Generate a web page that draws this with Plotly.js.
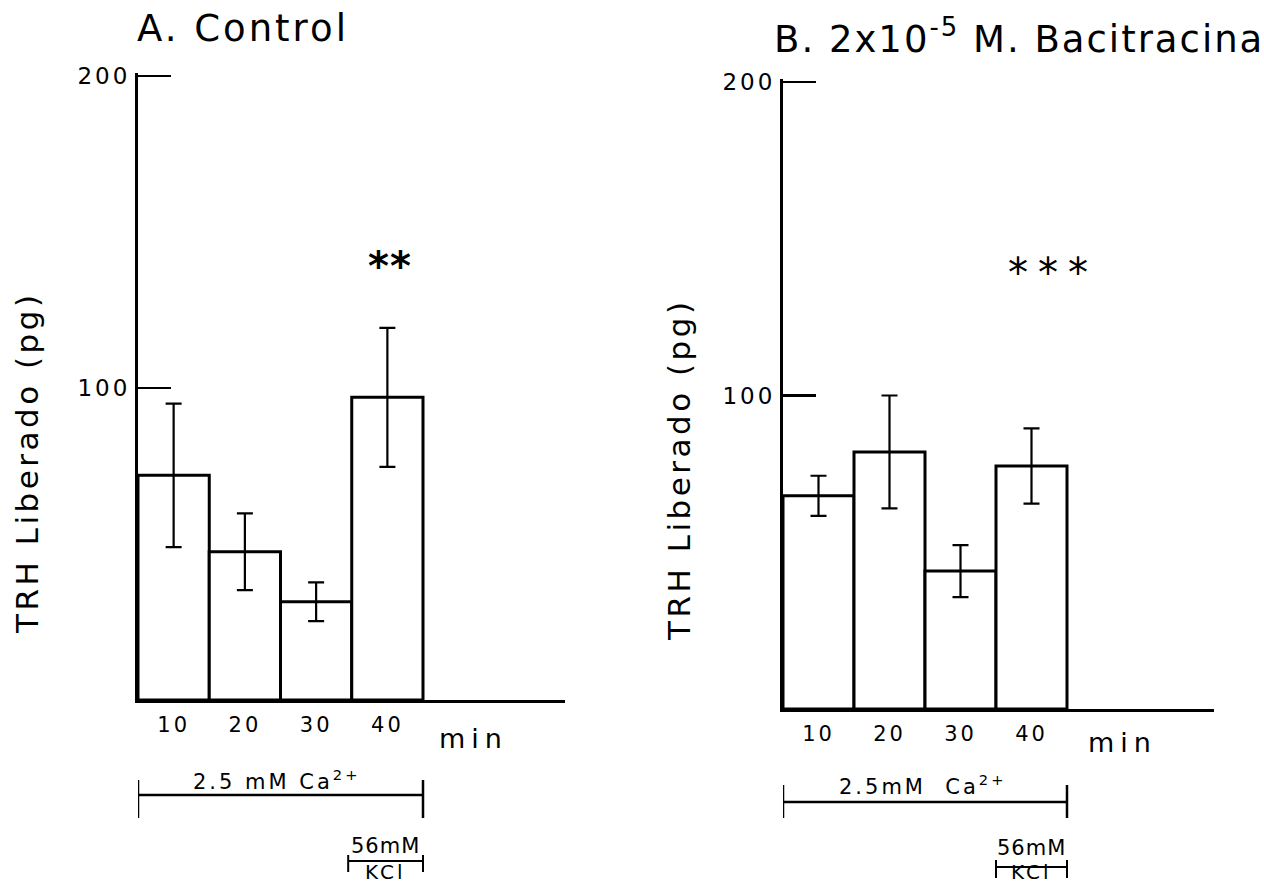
<!DOCTYPE html>
<html>
<head>
<meta charset="utf-8">
<script src="https://cdn.plot.ly/plotly-3.0.1.min.js"></script>
<style>
html,body{margin:0;padding:0;background:#fff;}
#chart{width:1264px;height:885px;}
</style>
</head>
<body>
<div id="chart"></div>
<script>
// ---- data ----
const minutes = ['10', '20', '30', '40'];
const controlMean = [72, 47.5, 31.5, 97];
const controlErr = [23, 12.3, 6.2, 22.3];
const bacMean = [68, 82, 44, 77.5];
const bacErr = [6.4, 18, 8.3, 12];
const yTicks = [100, 200];
const panelTitles = ['A. Control', 'B. 2x10<sup>-5</sup> M. Bacitracina'];
const yTitle = 'TRH Liberado (pg)';
const xUnit = 'min';
const caLabels = ['2.5 mM Ca<sup>2+</sup>', '2.5mM&nbsp; Ca<sup>2+</sup>'];
const kclTop = '56mM';
const kclBottom = 'KCl';
const stars = ['**', '***'];

// ---- helpers ----
const W = 1264, H = 885;
const px = x => x / W;
const py = y => 1 - y / H;
const pos = minutes.map((_, i) => i + 1);
const FONT = 'DejaVu Sans, sans-serif';
const sp = (t, s) => '<span style="letter-spacing:' + s + 'px">' + t + '</span>';
const YTOP = 201;  // tiny headroom so the 200 tick is drawn

function barTrace(vals, errs, xa, ya) {
  return {
    type: 'bar', x: pos, y: vals, xaxis: xa, yaxis: ya, width: 1,
    marker: {color: '#ffffff', line: {color: '#000', width: 3}},
    error_y: {type: 'data', array: errs, visible: true, color: '#000', thickness: 2.2, width: 8},
    hoverinfo: 'skip', showlegend: false
  };
}

const data = [
  barTrace(controlMean, controlErr, 'x', 'y'),
  barTrace(bacMean, bacErr, 'x2', 'y2')
];

function xAxis(domain, rng, anchor) {
  return {
    domain: domain, range: rng, anchor: anchor,
    showline: true, linecolor: '#000', linewidth: 2.5,
    showgrid: false, zeroline: false, ticks: '',
    tickvals: pos, ticktext: minutes.map(m => sp(m, 3)),
    tickfont: {family: FONT, size: 21, color: '#000'},
    ticklabelstandoff: 4, fixedrange: true
  };
}
function yAxis(y0px, y200px, anchor) {
  const per = (y0px - y200px) / 200;
  const topPx = y0px - YTOP * per;
  return {
    domain: [py(y0px), py(topPx)], range: [0, YTOP], anchor: anchor,
    showline: true, linecolor: '#000', linewidth: 3,
    showgrid: false, zeroline: false,
    ticks: 'inside', ticklen: 33, tickwidth: 2.5, tickcolor: '#000',
    tickvals: yTicks, ticktext: yTicks.map(v => sp(String(v), 3)),
    tickfont: {family: FONT, size: 23, color: '#000'},
    ticklabelstandoff: 0, fixedrange: true
  };
}

const ann = [];
function txt(x, y, text, size, extra) {
  ann.push(Object.assign({
    xref: 'paper', yref: 'paper', x: px(x), y: py(y), text: text, showarrow: false,
    xanchor: 'center', yanchor: 'middle',
    font: {family: FONT, size: size, color: '#000'}
  }, extra || {}));
}
// titles
txt(243, 29, sp(panelTitles[0], 3), 37);
txt(1019, 37, sp(panelTitles[1], 2), 37);
// y titles
txt(27, 463, sp(yTitle, 3.5), 31, {textangle: -90});
txt(679, 470, sp(yTitle, 3.5), 31, {textangle: -90});
// min
txt(473, 738, sp(xUnit, 6), 27);
txt(1122, 742, sp(xUnit, 6), 27);
// stars (anchored on data scale)
ann.push({xref: 'x', yref: 'y', x: 4.03, y: 139, text: sp(stars[0], 1), showarrow: false,
  xanchor: 'center', yanchor: 'middle', font: {family: FONT, size: 40, color: '#000', weight: 'bold'}});
ann.push({xref: 'x2', yref: 'y2', x: 4.3, y: 139, text: sp(stars[1], 10), showarrow: false,
  xanchor: 'center', yanchor: 'middle', font: {family: FONT, size: 40, color: '#000'}});
// bracket labels
txt(277, 780, sp(caLabels[0], 3), 21);
txt(923, 785, sp(caLabels[1], 3), 21);
txt(385, 846, sp(kclTop, 1), 21);
txt(385, 872, sp(kclBottom, 3), 20);
txt(1031, 848, sp(kclTop, 1), 21);
txt(1031, 872, sp(kclBottom, 3), 20);

const shapes = [];
function line(xref, x0, x1, y0, y1, w) {
  shapes.push({type: 'line', xref: xref, yref: 'paper', x0: x0, x1: x1, y0: py(y0), y1: py(y1),
    line: {color: '#000', width: w || 2.5}});
}
// Ca bracket panel A (bar edges 0.5 .. 4.5)
line('x', 0.5, 4.5, 795, 795);
line('x', 0.5, 0.5, 780, 818);
line('x', 4.5, 4.5, 780, 818);
// KCl bracket panel A
line('x', 3.45, 4.5, 861, 861, 2);
line('x', 3.45, 3.45, 855, 872, 2);
line('x', 4.5, 4.5, 855, 872, 2);
// Ca bracket panel B
line('x2', 0.5, 4.5, 802, 802);
line('x2', 0.5, 0.5, 785, 818);
line('x2', 4.5, 4.5, 785, 818);
// KCl bracket panel B
line('x2', 3.5, 4.5, 867, 867, 2);
line('x2', 3.5, 3.5, 860, 878, 2);
line('x2', 4.5, 4.5, 860, 878, 2);

const layout = {
  width: W, height: H,
  margin: {l: 0, r: 0, t: 0, b: 0},
  paper_bgcolor: '#fff', plot_bgcolor: '#fff',
  bargap: 0, showlegend: false,
  xaxis: xAxis([px(138), px(565)], [0.5, 0.5 + (565 - 138) / 71.25], 'y'),
  yaxis: yAxis(700, 76, 'x'),
  xaxis2: xAxis([px(783), px(1214)], [0.5, 0.5 + (1214 - 783) / 71], 'y2'),
  yaxis2: yAxis(709, 82, 'x2'),
  annotations: ann,
  shapes: shapes
};

Plotly.newPlot('chart', data, layout, {staticPlot: true, displayModeBar: false});
</script>
</body>
</html>
